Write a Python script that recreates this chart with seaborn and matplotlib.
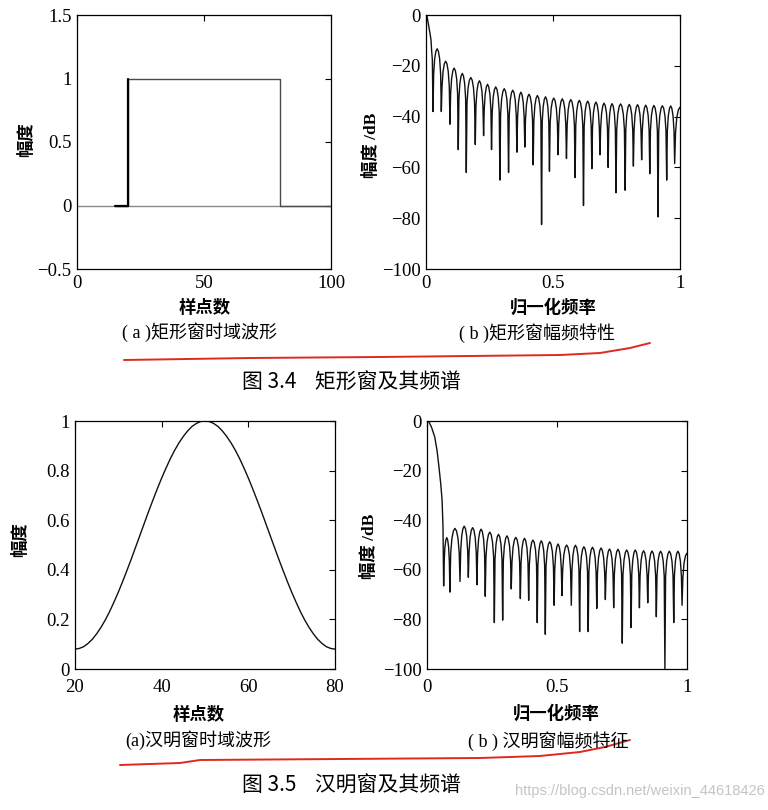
import matplotlib
matplotlib.use("Agg")
import matplotlib.pyplot as plt
import seaborn as sns
from matplotlib.lines import Line2D
from matplotlib.ticker import FuncFormatter

# ---------------- data ----------------
# (a) rectangular window, time domain
base_x = [0, 100]
base_y = [0, 0]
rect_x = [15, 20, 20, 80, 80, 100]
rect_y = [0, 0, 1, 1, 0, 0]

# (b) rectangular window spectrum (normalised frequency, dB)
rect_main_f = [0.0, 0.004, 0.009, 0.0157, 0.0197, 0.022, 0.025]
rect_main_db = [0.0, -0.5, -3.3, -7.2, -9.8, -13.8, -17.7]
rect_null_f = [0.0275, 0.0603, 0.0944, 0.127, 0.1586, 0.194, 0.2267, 0.258, 0.291, 0.325,
               0.358, 0.389, 0.422, 0.455, 0.486, 0.520, 0.553, 0.587, 0.620, 0.653,
               0.685, 0.717, 0.748, 0.784, 0.8165, 0.849, 0.881, 0.9135, 0.9476, 0.979]
rect_null_db = [-38, -38, -43, -53, -62, -51, -47.5, -53, -65, -62,
                -54, -52, -59, -82.5, -61.5, -55, -56.5, -64, -75, -60.5,
                -55, -60, -70, -69, -59.5, -57, -62.5, -79.5, -65, -58.5]
rect_peak_db = [-13.3, -18.2, -20.9, -23.0, -24.6, -25.9, -27.3, -28.3, -29.0, -29.6,
                -30.4, -31.2, -31.7, -32.2, -32.7, -33.0, -33.3, -33.6, -33.9, -34.3,
                -34.7, -34.9, -35.0, -35.2, -35.3, -35.5, -35.6, -35.7, -35.8]
rect_end_f, rect_end_db = 1.0, -36.3

# (a) Hamming window, time domain (sample index 20..80)
ham_n = list(range(20, 81))
ham_w = [0.080, 0.083, 0.090, 0.103, 0.120, 0.142, 0.168, 0.198, 0.232, 0.270,
         0.310, 0.353, 0.398, 0.444, 0.492, 0.540, 0.588, 0.636, 0.682, 0.727,
         0.770, 0.810, 0.848, 0.882, 0.912, 0.938, 0.960, 0.978, 0.990, 0.998,
         1.000,
         0.998, 0.990, 0.978, 0.960, 0.938, 0.912, 0.882, 0.848, 0.810, 0.770,
         0.727, 0.682, 0.636, 0.588, 0.540, 0.492, 0.444, 0.398, 0.353, 0.310,
         0.270, 0.232, 0.198, 0.168, 0.142, 0.120, 0.103, 0.090, 0.083, 0.080]

# (b) Hamming window spectrum
ham_main_f = [0.0, 0.008, 0.017, 0.0296, 0.0385, 0.046, 0.0527, 0.058, 0.0615]
ham_main_db = [0.0, -0.5, -2.4, -6.4, -11.8, -18.5, -25.2, -31.9, -42.6]
ham_null_f = [0.064, 0.088, 0.127, 0.159, 0.192, 0.224, 0.259, 0.291, 0.324, 0.359,
              0.391, 0.424, 0.455, 0.489, 0.519, 0.555, 0.587, 0.620, 0.653, 0.686,
              0.718, 0.751, 0.785, 0.817, 0.849, 0.882, 0.915, 0.949, 0.981]
ham_null_db = [-66.5, -69, -64.7, -63, -66, -70.7, -81.3, -80.3, -67.7, -71.6,
               -72.3, -81.3, -86, -74.3, -70.4, -74.3, -84.9, -84.9, -75.6, -72,
               -75.3, -89.6, -83.3, -75.3, -73.3, -78.9, -100, -81.3, -74.3]
ham_peak_db = [-47.0, -43.3, -42.4, -43.0, -43.6, -44.8, -45.7, -46.3, -46.9, -47.3,
               -48.0, -48.3, -48.7, -49.6, -50.0, -50.1, -50.7, -50.9, -51.2, -51.6,
               -51.7, -52.0, -52.0, -52.3, -52.4, -52.5, -52.5, -52.5]
ham_end_f, ham_end_db = 1.0, -53.3

# lobe drawing template (shape of one side lobe between two nulls)
LOBE_T = [0.08, 0.2, 0.35, 0.5, 0.65, 0.8, 0.92]
LOBE_DB = [-10, -4, -1, 0, -1, -4, -10]


def spectrum_curve(main_f, main_db, null_f, null_db, peak_db, end_f, end_db):
    f = list(main_f)
    d = list(main_db)
    for i in range(len(null_f)):
        f.append(null_f[i])
        d.append(null_db[i])
        if i + 1 < len(null_f):
            a, b, p = null_f[i], null_f[i + 1], peak_db[i]
            for t, o in zip(LOBE_T, LOBE_DB):
                f.append(a + t * (b - a))
                d.append(p + o)
    a = null_f[-1]
    for t, o in zip(LOBE_T[:3], LOBE_DB[:3]):
        f.append(a + 2 * t * (end_f - a))
        d.append(end_db + o)
    f.append(end_f)
    d.append(end_db)
    return f, d


# ---------------- style ----------------
sns.set_style("white")
CJK = "Noto Sans CJK SC"
SERIF = "Liberation Serif"
plt.rcParams["font.family"] = [SERIF, CJK]
plt.rcParams["axes.unicode_minus"] = True

W, H = 768, 810
fig = plt.figure(figsize=(W / 100, H / 100), dpi=100)
fig.patch.set_facecolor("white")


def add_axes(l, t, r, b):
    return fig.add_axes([l / W, 1 - b / H, (r - l) / W, (b - t) / H])


def fmt(v, p):
    return f"{v:g}".replace("-", "\u2212")


def style(ax, xt, yt, xl, yl, xpad=4):
    ax.set_xlim(*xl)
    ax.set_ylim(*yl)
    ax.set_xticks(xt)
    ax.set_yticks(yt)
    ax.xaxis.set_major_formatter(FuncFormatter(fmt))
    ax.yaxis.set_major_formatter(FuncFormatter(fmt))
    ax.tick_params(direction="in", length=4, width=0.8, top=True, right=True,
                   labelsize=13.5, pad=4, colors="black")
    ax.tick_params(axis="x", pad=xpad)
    for s in ax.spines.values():
        s.set_visible(True)
        s.set_linewidth(0.9)
        s.set_color("black")
    for lab in ax.get_xticklabels() + ax.get_yticklabels():
        lab.set_fontfamily(SERIF)
    ax.set_xlabel("")
    ax.set_ylabel("")
    ax.set_facecolor("white")
    ax.grid(False)


def line(ax, x, y, color="black", lw=1.0):
    sns.lineplot(x=x, y=y, ax=ax, sort=False, estimator=None, color=color,
                 linewidth=lw, legend=False)


# top-left
ax1 = add_axes(77, 15, 331, 269)
line(ax1, base_x, base_y, color="#8a8a8a", lw=1.0)
line(ax1, rect_x, rect_y, color="#4a4a4a", lw=1.0)
line(ax1, rect_x[:3], rect_y[:3], color="black", lw=1.6)
style(ax1, [0, 50, 100], [-0.5, 0, 0.5, 1, 1.5], (0, 100), (-0.5, 1.5))

# top-right
ax2 = add_axes(426, 15, 680, 269)
rf, rd = spectrum_curve(rect_main_f, rect_main_db, rect_null_f, rect_null_db,
                        rect_peak_db, rect_end_f, rect_end_db)
line(ax2, rf, rd, color="#111111", lw=1.0)
style(ax2, [0, 0.5, 1], [-100, -80, -60, -40, -20, 0], (0, 1), (-100, 0))

# bottom-left
ax3 = add_axes(75, 421, 335, 669)
line(ax3, ham_n, ham_w, color="#111111", lw=1.0)
style(ax3, [20, 40, 60, 80], [0, 0.2, 0.4, 0.6, 0.8, 1], (20, 80), (0, 1), xpad=7)

# bottom-right
ax4 = add_axes(427, 421, 687, 669)
hf, hd = spectrum_curve(ham_main_f, ham_main_db, ham_null_f, ham_null_db,
                        ham_peak_db, ham_end_f, ham_end_db)
line(ax4, hf, hd, color="#111111", lw=1.0)
style(ax4, [0, 0.5, 1], [-100, -80, -60, -40, -20, 0], (0, 1), (-100, 0), xpad=7)


# ---------------- texts ----------------
def txt(x, y, s, size=12, weight="normal", rot=0, ha="center", family=None, color="black"):
    fig.text(x / W, 1 - y / H, s, fontsize=size, fontweight=weight, rotation=rot,
             ha=ha, va="center", family=family or [SERIF, CJK], color=color)


txt(26, 140, "幅度", 12.5, "bold", 90, family=[CJK])
txt(372, 145, "幅度 /dB", 12.5, "bold", 90)
txt(205, 308, "样点数", 12.5, "bold", family=[CJK])
txt(553, 308, "归一化频率", 12.5, "bold", family=[CJK])
txt(200, 332, "( a )矩形窗时域波形", 13)
txt(537, 333, "( b )矩形窗幅频特性", 13)
txt(351, 383, "图 3.4    矩形窗及其频谱", 15, "light", family=[CJK])

txt(20, 540, "幅度", 12.5, "bold", 90, family=[CJK])
txt(370, 546, "幅度 /dB", 12.5, "bold", 90)
txt(199, 715, "样点数", 12.5, "bold", family=[CJK])
txt(556, 714, "归一化频率", 12.5, "bold", family=[CJK])
txt(198, 740, "(a)汉明窗时域波形", 13)
txt(548, 741, "( b ) 汉明窗幅频特征", 13)
txt(351, 786, "图 3.5    汉明窗及其频谱", 15, "light", family=[CJK])
txt(765, 791, "https://blog.csdn.net/weixin_44618426", 10.5, ha="right",
    family=["Liberation Sans"], color="#c4c4c4")

# red hand-drawn underlines (annotation)
red_top = [(124, 360), (250, 358), (380, 357), (560, 355), (600, 353), (630, 348), (650, 343)]
red_bot = [(120, 765), (180, 763), (200, 760), (480, 758), (540, 756), (580, 752),
           (605, 747), (630, 740)]
for pts in (red_top, red_bot):
    fig.add_artist(Line2D([p[0] / W for p in pts], [1 - p[1] / H for p in pts],
                          transform=fig.transFigure, color="#e0281e", lw=1.4))

fig.savefig("out.png", dpi=100, facecolor="white")
